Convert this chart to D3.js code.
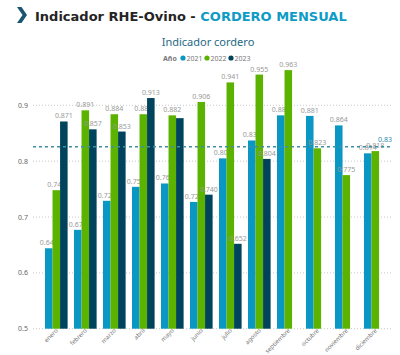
<!DOCTYPE html>
<html><head><meta charset="utf-8">
<script src="https://cdn.jsdelivr.net/npm/d3@7"></script>
<style>body{margin:0;background:#fff}svg{display:block}</style>
</head><body>
<svg id="c" width="400" height="355"></svg>
<script>
const months = ["enero","febrero","marzo","abril","mayo","junio","julio","agosto","septiembre","octubre","noviembre","diciembre"];
const years = ["2021","2022","2023"];
const v2021 = [0.644,0.677,0.729,0.754,0.760,0.727,0.805,0.837,0.882,0.881,0.864,0.814];
const v2022 = [0.748,0.891,0.884,0.884,0.882,0.906,0.941,0.955,0.963,0.823,0.775,0.818];
const v2023 = [0.871,0.857,0.853,0.913,0.877,0.740,0.652,0.804];
const yTicks = [0.5,0.6,0.7,0.8,0.9];
const refValue = 0.826;
const refLabel = "0.83";
const hiddenLabels = ["2023|mayo"];
const colors = {"2021":"#0A97C3","2022":"#5BB300","2023":"#00435C"};
const seriesVals = {"2021":v2021,"2022":v2022,"2023":v2023};

const svg = d3.select("#c");
const font = "'Noto Sans', sans-serif";

// Title
svg.append("path").attr("d","M17,7 L21.5,7 L27,15 L21.5,23 L17,23 L22.5,15 Z").attr("fill","#1B5671");
const title = svg.append("text").attr("x",35).attr("y",21)
  .attr("font-family","'DejaVu Sans', Verdana, sans-serif").attr("font-weight","bold").attr("font-size",13);
title.append("tspan").attr("fill","#252423").text("Indicador RHE-Ovino - ");
title.append("tspan").attr("fill","#0E9BC6").text("CORDERO MENSUAL");

svg.append("text").attr("x",208).attr("y",46).attr("text-anchor","middle")
  .attr("font-family",font).attr("font-size",11).attr("fill","#1E6A85").text("Indicador cordero");

// Legend
const lg = svg.append("g").attr("font-family",font).attr("font-size",7).attr("fill","#777");
lg.append("text").attr("x",163).attr("y",60.5).attr("font-weight","bold").text("Año");
let lx = 183;
years.forEach(y => {
  lg.append("circle").attr("cx",lx).attr("cy",58).attr("r",2.6).attr("fill",colors[y]);
  lg.append("text").attr("x",lx+3.5).attr("y",60.5).text(y);
  lx += 24;
});

// Scales
const yS = d3.scaleLinear().domain([0.5,0.97]).range([328.7, 328.7-0.47*558.5]);
const xS = d3.scaleBand().domain(months).range([41.8,389.8]).paddingInner(0.22).paddingOuter(0.11);
const xI = d3.scaleBand().domain(years).range([0,xS.bandwidth()]).padding(0);

// Grid
const gx0 = 33, gx1 = 392;
svg.append("g").selectAll("line").data(yTicks).join("line")
  .attr("x1",gx0).attr("x2",gx1).attr("y1",d=>yS(d)).attr("y2",d=>yS(d))
  .attr("stroke","#C8C8C8").attr("stroke-width",1).attr("stroke-dasharray","1,2");
svg.append("g").selectAll("text").data(yTicks).join("text")
  .attr("x",28).attr("y",d=>yS(d)+2.5).attr("text-anchor","end")
  .attr("font-family",font).attr("font-size",7).attr("fill","#666").text(d=>d.toFixed(1));

// Bars and labels per series
years.forEach(yr => {
  const vals = seriesVals[yr];
  const data = vals.map((v,i)=>({m:months[i],v}));
  const g = svg.append("g");
  g.selectAll("rect").data(data).join("rect")
    .attr("x",d=>xS(d.m)+xI(yr)).attr("width",xI.bandwidth())
    .attr("y",d=>yS(d.v)).attr("height",d=>yS(0.5)-yS(d.v))
    .attr("fill",colors[yr]);
  g.selectAll("text").data(data.filter(d=>!hiddenLabels.includes(yr+"|"+d.m))).join("text")
    .attr("x",d=>xS(d.m)+xI(yr)+xI.bandwidth()/2).attr("y",d=>yS(d.v)-3)
    .attr("text-anchor","middle").attr("font-family",font).attr("font-size",7)
    .attr("fill","#999").text(d=>d.v.toFixed(3));
});

// Reference line
svg.append("line").attr("x1",gx0).attr("x2",gx1).attr("y1",yS(refValue)).attr("y2",yS(refValue))
  .attr("stroke","#3E8FA3").attr("stroke-width",1.5).attr("stroke-dasharray","3,3");
svg.append("text").attr("x",392).attr("y",yS(refValue)-5).attr("text-anchor","end")
  .attr("font-family",font).attr("font-size",7).attr("fill","#2A8BAA").text(refLabel);

// X axis labels
svg.append("g").selectAll("text").data(months).join("text")
  .attr("transform",d=>`translate(${xS(d)+xS.bandwidth()/2+2},${331}) rotate(-45)`)
  .attr("text-anchor","end").attr("font-family",font).attr("font-size",6).attr("fill","#777").text(d=>d);
</script>
</body></html>
